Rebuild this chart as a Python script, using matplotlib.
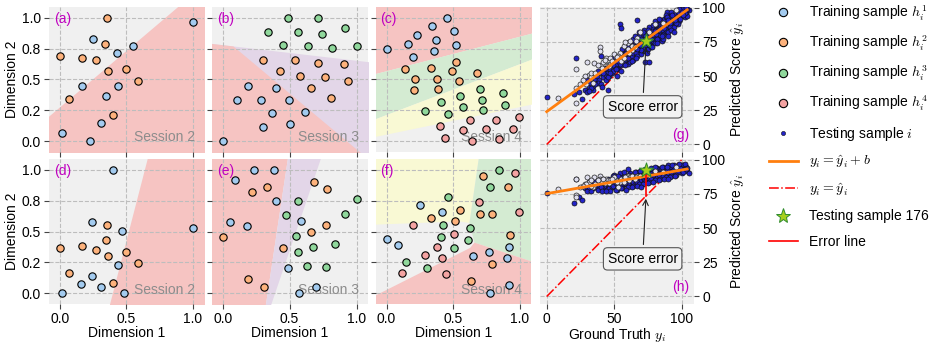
import numpy as np
import matplotlib.pyplot as plt
from matplotlib.lines import Line2D

plt.rcParams['font.family'] = ['Liberation Sans', 'DejaVu Sans']
plt.rcParams['mathtext.fontset'] = 'cm'
plt.rcParams['font.size'] = 10

# point colours of the four training sessions
c_h = ['#a3cbef', '#fdb27c', '#90d89c', '#f4a3a2']
# decision region colours
RED = '#f6c4c2'
PURPLE = '#e3d6e8'
GREEN = '#d4ebd2'
YELLOW = '#f9f9d4'
BG = '#f0f0f0'

# ---------------- panel (a) ----------------
a_x1 = [1.0, 0.25, 0.555, 0.43, 0.165, 0.435, 0.345, 0.31, 0.015, 0.23]
a_y1 = [0.967, 0.832, 0.775, 0.718, 0.45, 0.447, 0.369, 0.144, 0.068, 0.0]
a_x2 = [0.355, 0.343, 0.0, 0.17, 0.27, 0.36, 0.5, 0.59, 0.07, 0.40]
a_y2 = [1.0, 0.791, 0.691, 0.672, 0.656, 0.572, 0.588, 0.485, 0.341, 0.209]
a_red_x = [-0.1, 1.1]
a_red_y = [0.187, 1.287]

# ---------------- panel (b) ----------------
b_x1 = [0.1925, 0.3975, 0.1075, 0.2875, 0.4925, 0.3675, 0.6175, 0.2975, 0.5025, 0.0]
b_y1 = [0.447, 0.431, 0.331, 0.331, 0.331, 0.228, 0.238, 0.111, 0.138, 0.0]
b_x2 = [0.2975, 0.5425, 0.71, 0.905, 0.425, 0.5775, 0.7625, 0.935, 0.6625, 0.8075]
b_y2 = [0.656, 0.661, 0.637, 0.626, 0.572, 0.526, 0.523, 0.488, 0.428, 0.352]
b_x3 = [0.4875, 0.71, 0.3375, 0.5625, 0.74, 0.915, 0.4475, 0.6375, 0.8175, 1.0]
b_y3 = [1.0, 1.0, 0.883, 0.886, 0.873, 0.916, 0.783, 0.772, 0.756, 0.772]
b_line_x = [-0.1, 1.1]
b_purple_y = [0.7945, 0.643]
b_red_y = [0.933, -0.157]

# ---------------- panel (c) ----------------
c_x1 = [0.4575, 0.3375, 0.505, 0.2275, 0.1625, 0.3675, 0.525, 0.0, 0.3575, 0.2]
c_y1 = [1.0, 0.93, 0.89, 0.86, 0.786, 0.818, 0.783, 0.748, 0.732, 0.686]
c_x2 = [0.135, 0.3325, 0.525, 0.49, 0.6825, 0.215, 0.375, 0.5475, 0.205, 0.385]
c_y2 = [0.588, 0.593, 0.645, 0.566, 0.556, 0.501, 0.501, 0.488, 0.412, 0.42]
c_x3 = [0.705, 0.875, 0.555, 0.7175, 0.4075, 0.5725, 0.8875, 0.2875, 0.465, 0.7225]
c_y3 = [0.42, 0.388, 0.366, 0.331, 0.317, 0.279, 0.29, 0.244, 0.222, 0.249]
c_x4 = [0.63, 0.82, 0.9975, 0.3975, 0.5725, 0.745, 0.95, 0.4375, 0.6425, 0.8425]
c_y4 = [0.168, 0.171, 0.195, 0.125, 0.089, 0.095, 0.098, 0.027, 0.0, 0.016]
c_line_x = [-0.1, 1.1]
c_red_y = [0.544, 0.879]
c_green_y = [0.176, 0.670]
c_yellow_y = [0.0355, 0.303]

# ---------------- panel (d) ----------------
d_x1 = [0.4, 0.243, 0.465, 1.0, 0.435, 0.245, 0.16, 0.31, 0.015, 0.48]
d_y1 = [1.0, 0.577, 0.507, 0.531, 0.226, 0.143, 0.075, 0.049, 0.005, 0.0]
d_x2 = [0.355, 0.345, 0.0, 0.17, 0.27, 0.36, 0.5, 0.59, 0.07, 0.40]
d_y2 = [0.555, 0.429, 0.369, 0.38, 0.348, 0.302, 0.332, 0.248, 0.164, 0.086]
d_line_y = [-0.2, 1.2]
d_red_x = [0.348, 0.684]

# ---------------- panel (e) ----------------
e_x1 = [0.235, 0.3825, 0.095, 0.3975, 0.055, 0.1825, 0.5825, 0.485, 0.695, 0.5725]
e_y1 = [1.0, 0.995, 0.919, 0.744, 0.574, 0.544, 0.585, 0.202, 0.051, 0.0]
e_x2 = [0.68, 0.7825, 0.3325, 0.2175, 0.77, 0.6625, 0.0, 0.4475, 0.19, 0.31]
e_y2 = [0.898, 0.841, 0.865, 0.817, 0.55, 0.499, 0.453, 0.364, 0.116, 0.049]
e_x3 = [1.0, 0.565, 0.475, 0.9125, 0.55, 0.8375, 0.675, 0.565, 0.6325, 0.775]
e_y3 = [0.76, 0.744, 0.631, 0.642, 0.466, 0.402, 0.375, 0.337, 0.218, 0.21]
e_line_y = [-0.2, 1.2]
e_red_x = [0.304, 0.498]
e_purple_x = [0.3246, 0.7631]

# ---------------- panel (f) ----------------
f_x1 = [0.2525, 0.4175, 0.0, 0.0875, 0.65, 0.7675, 0.92, 0.9075, 0.92, 0.7775]
f_y1 = [0.712, 0.66, 0.439, 0.391, 0.302, 0.337, 0.377, 0.283, 0.07, 0.0]
f_x2 = [0.7225, 0.9125, 0.5525, 0.33, 0.5175, 0.7025, 0.79, 0.925, 0.7925, 0.6325]
f_y2 = [0.954, 0.86, 0.671, 0.612, 0.582, 0.639, 0.639, 0.474, 0.237, 0.102]
f_x3 = [0.8425, 0.7775, 0.4625, 0.4225, 0.4125, 0.6275, 0.615, 0.505, 0.1425, 0.3025]
f_y3 = [1.0, 0.86, 0.782, 0.55, 0.458, 0.531, 0.431, 0.367, 0.253, 0.202]
f_x4 = [0.9625, 0.6925, 0.9975, 0.195, 0.51, 0.38, 0.29, 0.4175, 0.1125, 0.4475]
f_y4 = [0.976, 0.741, 0.655, 0.555, 0.477, 0.372, 0.307, 0.286, 0.162, 0.159]
f_yellow_x = [-0.1, 0.707, 0.6225, 0.5475, -0.1]
f_yellow_y = [1.2, 1.2, 0.569, 0.582, 0.555]
f_green_x = [0.707, 1.2, 1.2, 0.66, 0.6225]
f_green_y = [1.2, 1.2, 0.218, 0.41, 0.569]
f_red_x = [-0.1, 1.2, 1.2, 0.66, 0.6275, -0.1]
f_red_y = [-0.2, -0.2, 0.218, 0.41, 0.367, -0.028]

# ---------------- panels (g), (h): testing samples ----------------
# ground truth, prediction of session-1 model (g), prediction of session-4 model (h)
gt_dark = [0, 20, 24, 26, 22, 40, 73, 76, 54, 55, 67, 45,
           28, 30, 31, 32, 34, 35, 30, 36, 34, 37, 38, 39, 40, 42, 43, 44, 38, 40, 44, 45, 41,
           46, 48, 49, 50, 52, 53, 54, 46, 48, 52, 55, 49, 51, 55,
           56, 57, 58, 59, 60, 61, 62, 64, 65, 56, 58, 59, 61, 62, 63, 64, 65, 60, 58, 64,
           66, 67, 68, 69, 70, 71, 72, 73, 74, 75, 66, 68, 69, 70, 71, 72, 73, 74, 75, 68, 70, 72, 74, 71, 73, 75, 67,
           76, 77, 78, 79, 80, 81, 82, 83, 84, 85, 76, 77, 78, 79, 80, 81, 82, 83, 84, 85, 78, 80, 82, 84, 79, 81, 83, 85, 77,
           86, 87, 88, 89, 90, 91, 92, 93, 94, 95, 86, 87, 88, 89, 90, 91, 92, 93, 94, 95, 88, 90, 92, 94, 89,
           96, 97, 98, 99, 100, 101, 102, 98, 100, 103, 104, 105, 97, 99, 102,
           50, 52, 54, 56, 58, 60, 62, 64, 66, 68, 70, 72, 74, 76, 78, 80, 82, 84, 86, 88, 90, 92, 94, 96, 98,
           57, 59, 61, 63, 65, 67, 69, 71, 73, 75, 77, 79, 81, 83, 85, 87, 89, 91, 93, 95,
           45, 47, 49, 51, 53, 55, 42, 44, 36, 33, 31, 60, 70, 80, 90, 100, 104, 101, 103]
pg_dark = [35, 37, 38, 33, 63, 65, 60, 60, 88, 85, 91, 40,
           40, 47, 42, 45, 43, 46, 38, 48, 40, 50, 54, 47, 52, 49, 55, 51, 45, 44, 47, 53, 42,
           55, 57, 62, 58, 60, 56, 63, 50, 52, 55, 58, 54, 59, 54,
           64, 68, 62, 70, 66, 71, 65, 73, 68, 60, 66, 63, 62, 70, 64, 67, 75, 59, 71, 62,
           71, 74, 69, 76, 72, 78, 73, 77, 71, 79, 67, 73, 70, 80, 68, 75, 72, 81, 74, 79, 66, 70, 76, 74, 80, 70, 65,
           77, 80, 75, 83, 79, 85, 81, 77, 86, 82, 73, 84, 79, 76, 87, 78, 84, 88, 80, 76, 86, 74, 77, 83, 80, 88, 84, 87, 71,
           84, 88, 82, 90, 86, 92, 88, 84, 93, 89, 80, 92, 87, 83, 95, 86, 94, 90, 86, 96, 93, 82, 84, 90, 97,
           92, 95, 90, 97, 94, 98, 93, 96, 99, 96, 94, 98, 88, 92, 96,
           64, 50, 59, 70, 58, 71, 60, 77, 63, 82, 69, 84, 67, 86, 71, 90, 74, 91, 77, 95, 79, 97, 82, 89, 99,
           66, 67, 75, 61, 79, 70, 73, 82, 75, 84, 77, 87, 81, 92, 79, 85, 93, 89, 95, 91,
           49, 52, 58, 55, 61, 66, 52, 56, 44, 41, 39, 63, 77, 83, 91, 97, 99, 95, 100]
ph_dark = [75.6, 68, 73, 70.5, 86, 85, 86, 85, 86, 87, 90, 80,
           79, 80, 84, 78, 83, 80, 77, 82, 79, 80, 83, 81, 79, 82, 80, 83, 78, 80, 81, 79, 77,
           81, 82, 80, 83, 81, 84, 82, 79, 80, 82, 83, 81, 83, 81,
           84, 82, 85, 83, 86, 84, 82, 85, 83, 81, 84, 82, 83, 85, 81, 86, 84, 82, 83, 84,
           85, 87, 84, 86, 88, 85, 87, 89, 86, 88, 83, 86, 84, 89, 85, 90, 84, 87, 86, 89, 85, 86, 90, 87, 88, 84, 84,
           87, 89, 88, 90, 87, 91, 89, 88, 90, 92, 86, 90, 91, 87, 92, 88, 90, 92, 89, 88, 91, 88, 87, 93, 89, 91, 89, 91, 86,
           90, 92, 89, 93, 91, 94, 92, 90, 94, 93, 88, 93, 91, 90, 94, 92, 95, 92, 91, 95, 94, 90, 91, 93, 93,
           93, 94, 92, 95, 93, 96, 94, 93, 96, 95, 92, 90, 91, 94, 97,
           89, 78, 90, 79, 88, 80, 90, 81, 91, 82, 92, 83, 92, 84, 93, 85, 94, 86, 95, 87, 96, 88, 96, 89, 97,
           91, 78, 89, 80, 91, 81, 92, 82, 93, 83, 94, 84, 94, 85, 95, 86, 95, 87, 96, 88,
           86, 77, 88, 78, 88, 79, 86, 77, 84, 77, 80, 93, 80, 95, 86, 90, 94, 91, 93]
gt_light = [8.5, 21.5, 22, 22, 30, 35, 39.5, 39.5, 31, 28, 34.5, 40.5, 44, 29, 33, 33, 41, 42, 45, 43,
            47, 51, 55, 50, 54, 47, 53, 48, 57, 60, 63, 62, 63, 67, 66, 69, 76, 80, 86, 96,
            57, 60, 65, 52, 46, 36, 38, 27, 25, 58, 61]
pg_light = [34, 41, 30.5, 55, 60, 59.5, 71, 68, 51, 50, 45, 58, 63, 44, 49, 52, 56, 60, 58, 62,
            59, 64, 61, 66, 67, 63, 65, 61, 72, 74, 69, 76, 72, 78, 76, 82, 82, 88, 89, 98,
            63, 70, 71, 64, 57, 52, 58, 47, 44, 75, 67]
ph_light = [78.5, 74, 73, 86, 87, 87.5, 88, 86, 84, 82, 80, 85, 86, 82, 81, 85, 84, 86, 85, 83,
            84, 85, 86, 87, 84, 85, 80, 86, 86, 88, 87, 87, 88, 88, 87, 88, 89, 92, 91, 95,
            84, 86, 86, 84, 83, 82, 85, 81, 80, 87, 85]

fit_x = [0, 104]
fit_g = [24, 98.5]
fit_h = [75.2, 93.2]
ident = [0, 100]
star_gt = 73.5
star_g = 76
star_h = 92.7
note_xy = (71, 27.5)

# ---------------- layout ----------------
fig = plt.figure(figsize=(9.35, 3.43), dpi=100)
lefts = [0.0524, 0.2267, 0.4021, 0.5775]
widths = [0.1658, 0.1668, 0.1658, 0.1647]
bottoms = [0.5569, 0.1137]
height = 0.4227

def make_ax(col, row):
    ax = fig.add_axes([lefts[col], bottoms[row], widths[col], height])
    ax.set_facecolor(BG)
    for s in ax.spines.values():
        s.set_visible(False)
    ax.set_axisbelow(True)
    ax.grid(True, ls='--', color='#bdbdbd', lw=0.8)
    ax.tick_params(length=3.5, width=0.8, color='#444444', labelsize=10, pad=2.5)
    return ax

def dim_panel(ax, groups, label, session, row, col):
    for k, (xs, ys) in enumerate(groups):
        ax.scatter(xs, ys, s=28, c=c_h[k], edgecolors='k', linewidths=0.8, zorder=3)
    ax.set_xlim(-0.08, 1.085)
    ax.set_ylim(-0.088, 1.088)
    ax.set_xticks([0, 0.5, 1.0])
    ax.set_yticks([0, 0.25, 0.5, 0.75, 1.0])
    ax.xaxis.set_major_formatter(plt.FormatStrFormatter('%.1f'))
    ax.yaxis.set_major_formatter(plt.FormatStrFormatter('%.1f'))
    ax.text(0.03, 0.92, label, transform=ax.transAxes, color='#c000c0',
            ha='left', va='center', fontsize=10)
    ax.text(0.94, 0.10, session, transform=ax.transAxes, color='#8c8c8c',
            ha='right', va='center', fontsize=10, zorder=2.5)
    if row == 0:
        ax.tick_params(labelbottom=False)
    else:
        ax.set_xlabel('Dimension 1', labelpad=0)
    if col == 0:
        ax.set_ylabel('Dimension 2', labelpad=2)
    else:
        ax.tick_params(labelleft=False)

gx = np.linspace(-0.1, 1.1, 300)

ax = make_ax(0, 0)
ax.fill_between(gx, -0.2, np.interp(gx, a_red_x, a_red_y), color=RED, lw=0, zorder=0.2)
dim_panel(ax, [(a_x1, a_y1), (a_x2, a_y2)], '(a)', 'Session 2', 0, 0)

ax = make_ax(1, 0)
pur = np.interp(gx, b_line_x, b_purple_y)
red = np.minimum(np.interp(gx, b_line_x, b_red_y), pur)
ax.fill_between(gx, -0.2, pur, color=PURPLE, lw=0, zorder=0.2)
ax.fill_between(gx, -0.2, red, color=RED, lw=0, zorder=0.3)
dim_panel(ax, [(b_x1, b_y1), (b_x2, b_y2), (b_x3, b_y3)], '(b)', 'Session 3', 0, 1)

ax = make_ax(2, 0)
l1 = np.interp(gx, c_line_x, c_red_y)
l2 = np.interp(gx, c_line_x, c_green_y)
l3 = np.interp(gx, c_line_x, c_yellow_y)
ax.fill_between(gx, l1, 1.2, color=RED, lw=0, zorder=0.2)
ax.fill_between(gx, l2, l1, color=GREEN, lw=0, zorder=0.2)
ax.fill_between(gx, l3, l2, color=YELLOW, lw=0, zorder=0.2)
dim_panel(ax, [(c_x1, c_y1), (c_x2, c_y2), (c_x3, c_y3), (c_x4, c_y4)], '(c)', 'Session 4', 0, 2)

gy = np.linspace(-0.2, 1.2, 300)

ax = make_ax(0, 1)
ax.fill_betweenx(gy, np.interp(gy, d_line_y, d_red_x), 1.2, color=RED, lw=0, zorder=0.2)
dim_panel(ax, [(d_x1, d_y1), (d_x2, d_y2)], '(d)', 'Session 2', 1, 0)

ax = make_ax(1, 1)
er = np.interp(gy, e_line_y, e_red_x)
ep = np.interp(gy, e_line_y, e_purple_x)
ax.fill_betweenx(gy, -0.2, er, color=RED, lw=0, zorder=0.2)
ax.fill_betweenx(gy, er, ep, color=PURPLE, lw=0, zorder=0.2)
dim_panel(ax, [(e_x1, e_y1), (e_x2, e_y2), (e_x3, e_y3)], '(e)', 'Session 3', 1, 1)

ax = make_ax(2, 1)
ax.fill(f_yellow_x, f_yellow_y, color=YELLOW, lw=0, zorder=0.2)
ax.fill(f_green_x, f_green_y, color=GREEN, lw=0, zorder=0.2)
ax.fill(f_red_x, f_red_y, color=RED, lw=0, zorder=0.2)
dim_panel(ax, [(f_x1, f_y1), (f_x2, f_y2), (f_x3, f_y3), (f_x4, f_y4)], '(f)', 'Session 4', 1, 2)


def score_panel(ax, pg_d, pg_l, fit_y, star_pred, label, row):
    ax.plot(ident, ident, color='red', ls='-.', lw=1.1, zorder=1.5)
    ax.scatter(gt_dark, pg_d, s=13, c='#2323c8', edgecolors='#111111', linewidths=0.5, zorder=2)
    ax.scatter(gt_light, pg_l, s=13, c='#dedeee', edgecolors='#222222', linewidths=0.5, zorder=2.1)
    ax.plot(fit_x, fit_y, color='#ff7f0e', lw=2, zorder=3)
    ax.plot([star_gt, star_gt], [star_gt, star_pred], color='red', lw=1.2, zorder=4)
    ax.scatter([star_gt], [star_pred], marker='*', s=120, c='#a6cf1c',
               edgecolors='#2e8b2e', linewidths=0.7, zorder=5)
    ax.annotate('Score error', xy=(star_gt, star_gt), xytext=note_xy,
                ha='center', va='center', fontsize=10, zorder=6,
                bbox=dict(boxstyle='round,pad=0.3', fc='#f2f2f2', ec='#555555', lw=0.8),
                arrowprops=dict(arrowstyle='->', color='#222222', lw=0.8))
    ax.set_xlim(-5, 109)
    ax.set_ylim(-5.5, 100.5)
    ax.set_xticks([0, 50, 100])
    ax.set_yticks([0, 25, 50, 75, 100])
    ax.yaxis.tick_right()
    ax.yaxis.set_label_position('right')
    ax.set_ylabel(r'Predicted Score $\hat{y}_i$', labelpad=2)
    ax.text(0.97, 0.12, label, transform=ax.transAxes, color='#c000c0',
            ha='right', va='center', fontsize=10)
    if row == 0:
        ax.tick_params(labelbottom=False)
    else:
        ax.set_xlabel(r'Ground Truth $y_i$', labelpad=0)

ax = make_ax(3, 0)
score_panel(ax, pg_dark, pg_light, fit_g, star_g, '(g)', 0)
ax = make_ax(3, 1)
score_panel(ax, ph_dark, ph_light, fit_h, star_h, '(h)', 1)

# legend
handles = [Line2D([], [], ls='none', marker='o', ms=6, mfc=c, mec='k', mew=0.8) for c in c_h]
handles += [
    Line2D([], [], ls='none', marker='o', ms=3, mfc='#2323c8', mec='#111111', mew=0.4),
    Line2D([], [], color='#ff7f0e', lw=2),
    Line2D([], [], color='red', ls='-.', lw=1.1),
    Line2D([], [], ls='none', marker='*', ms=11, mfc='#a6cf1c', mec='#2e8b2e', mew=0.7),
    Line2D([], [], color='red', lw=1.2),
]
labels = [r'Training sample $h_i^1$', r'Training sample $h_i^2$',
          r'Training sample $h_i^3$', r'Training sample $h_i^4$',
          r'Testing sample $i$', r'$y_i = \hat{y}_i + b$', r'$y_i = \hat{y}_i$',
          'Testing sample 176', 'Error line']
fig.legend(handles, labels, loc='upper left', bbox_to_anchor=(0.822, 0.99),
           frameon=False, borderpad=0, borderaxespad=0, handlelength=2.1,
           handletextpad=0.8, labelspacing=0.80, fontsize=10)

fig.savefig('out.png', dpi=100)
